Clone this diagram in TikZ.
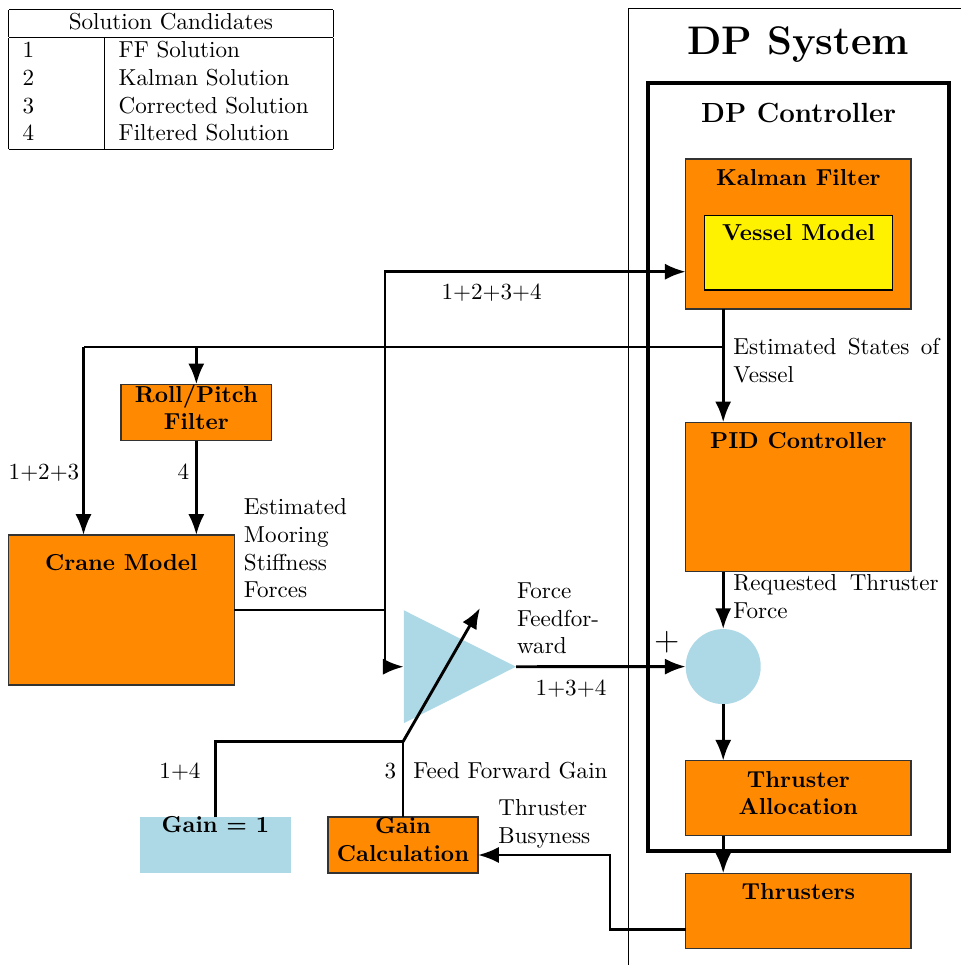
\documentclass[tikz,border=0pt]{standalone}
\usetikzlibrary{arrows.meta,shapes.geometric,fit,calc}
\definecolor{boxorange}{RGB}{255,137,0}
\definecolor{sumblue}{RGB}{173,216,230}
\setlength{\parindent}{0pt}
\begin{document}
\begin{tikzpicture}[x=0.433pt,y=-0.433pt,
  wire/.style={line width=1.25pt},
  arr/.style={wire, -{Latex[length=9pt,width=7pt]}},
  blk/.style={draw=black!80, line width=0.5pt, fill=boxorange, inner sep=0pt, outer sep=0pt},
  lbl/.style={inner sep=0pt, font=\bfseries, align=center},
  txt/.style={inner sep=0pt},
]
\useasboundingbox (0,0) rectangle (960,965);

% legend table
\node[anchor=north west, inner sep=0pt] (legend) at (8.3,8.3) {\begin{tabular}{|p{29.6pt}|p{86.8pt}|}\hline
\multicolumn{2}{|c|}{Solution Candidates}\\\hline
1 & FF Solution\\
2 & Kalman Solution\\
3 & Corrected Solution\\
4 & Filtered Solution\\\hline
\end{tabular}};

% DP system (container, partly outside the view)
\draw[line width=0.6pt] (965,8.3) -- (628.5,8.3) -- (628.5,970);
\node[txt, font=\LARGE\bfseries, anchor=base] (dpsys) at (798,55) {DP System};

% DP controller
\node[draw, line width=1.8pt, inner sep=0pt, outer sep=0pt, fit={(648.3,83.3)(949,851)},
  label={[lbl, font=\large\bfseries, anchor=base, yshift=-17.1pt]north:DP Controller}] (dpc) {};

% blocks
\node[blk, fit={(685.7,159)(911,309)},
  label={[lbl, anchor=base, yshift=-11.26pt]north:Kalman Filter}] (kf) {};
\node[blk, fill=yellow, draw=black, fit={(704.3,215.7)(892.7,290)},
  label={[lbl, anchor=base, yshift=-10.8pt]north:Vessel Model}] (vm) {};
\node[blk, fit={(685.7,422.3)(911,571.7)},
  label={[lbl, anchor=base, yshift=-11.26pt]north:PID Controller}] (pid) {};
\node[circle, fill=sumblue, inner sep=0pt, outer sep=0pt, minimum size=32.5pt] (sum) at (723.2,666.6) {};
\node[txt, font=\Large] (plus) at (666.7,641.7) {$+$};
\node[blk, fit={(685.7,760.7)(911,835.7)},
  label={[lbl, anchor=north, yshift=-4.33pt]north:Thruster\\Allocation}] (ta) {};
\node[blk, fit={(685.7,873.3)(911,948.3)},
  label={[lbl, anchor=base, yshift=-11.26pt]north:Thrusters}] (thr) {};

\node[blk, fit={(121,384.3)(271.7,440.7)},
  label={[lbl, anchor=north]north:Roll/Pitch\\Filter}] (rp) {};
\node[blk, fit={(8.3,535)(234.3,685)},
  label={[lbl, anchor=base, yshift=-15.16pt]north:Crane Model}] (crane) {};

\node[isosceles triangle, isosceles triangle stretches, fill=sumblue, inner sep=0pt, outer sep=0pt,
  minimum width=48.9pt, minimum height=48.6pt, anchor=east] (gain) at (516,666.7) {};

\node[fill=sumblue, inner sep=0pt, outer sep=0pt, fit={(140,817)(291,873)},
  label={[lbl, anchor=base, yshift=-6.9pt]north:Gain = 1}] (g1) {};
\node[blk, fit={(328,817)(478,873)},
  label={[lbl, anchor=north]north:Gain\\Calculation}] (gc) {};

% junction coordinates
\coordinate (esj) at (723.2,347);
\coordinate (lft) at (83.5,347);
\coordinate (vtop) at (385,271.7);
\coordinate (gj) at (403,741.7);
\coordinate (gtip) at (480,608);
\coordinate (tb1) at (610,929.5);
\coordinate (tb2) at (610,855);

% connectors
\draw[arr] (kf.south -| sum.center) -- (pid.north -| sum.center);
\draw[wire] (esj) -- (lft);
\draw[arr] (lft) -- (lft |- crane.north);
\draw[arr] (esj -| rp.north) -- (rp.north);
\draw[arr] (rp.south) -- (rp.south |- crane.north);
\draw[arr] (crane.east) -- (crane.east -| vtop) -- (vtop) -- (vtop -| kf.west);
\draw[arr] (crane.east -| vtop) |- (gain.west);
\draw[arr] (gain.east) -- (sum.west);
\draw[wire] (g1.north) |- (gj);
\draw[wire] (gc.north) -- (gj);
\draw[arr] (gj) -- (gtip);
\draw[arr] (thr.west |- tb1) -- (tb1) -- (tb2) -- (tb2 -| gc.east);
\draw[arr] (pid.south -| sum.north) -- (sum.north);
\draw[arr] (sum.south) -- (sum.south |- ta.north);
\draw[arr] (ta.south -| sum.south) -- (thr.north -| sum.south);

% texts
\node[txt, anchor=north west, text width=89.2pt, align=justify] (lesv) at (733,338) {Estimated States of Vessel};
\node[txt, anchor=north west, text width=88.8pt, align=justify] (lrtf) at (733,574) {Requested Thruster Force};
\node[txt, anchor=north west, align=left] (lmoor) at (243.5,498.3) {Estimated\\Mooring\\Stiffness\\Forces};
\node[txt, anchor=north west, align=left] (lff) at (516.7,582.2) {Force\\Feedfor-\\ward};
\node[txt, anchor=north west, align=left] (ltb) at (498,799) {Thruster\\Busyness};
\node[txt, anchor=base] (l1234) at (491.7,300) {1+2+3+4};
\node[txt, anchor=base] (l134) at (571,695) {1+3+4};
\node[txt, anchor=base] (l123) at (44,479.5) {1+2+3};
\node[txt, anchor=base] (l4) at (183.5,479.5) {4};
\node[txt, anchor=base] (l14) at (180,778) {1+4};
\node[txt, anchor=base] (l3) at (390.5,778) {3};
\node[txt, anchor=base west] (lffg) at (413,778) {Feed Forward Gain};
\end{tikzpicture}
\end{document}
